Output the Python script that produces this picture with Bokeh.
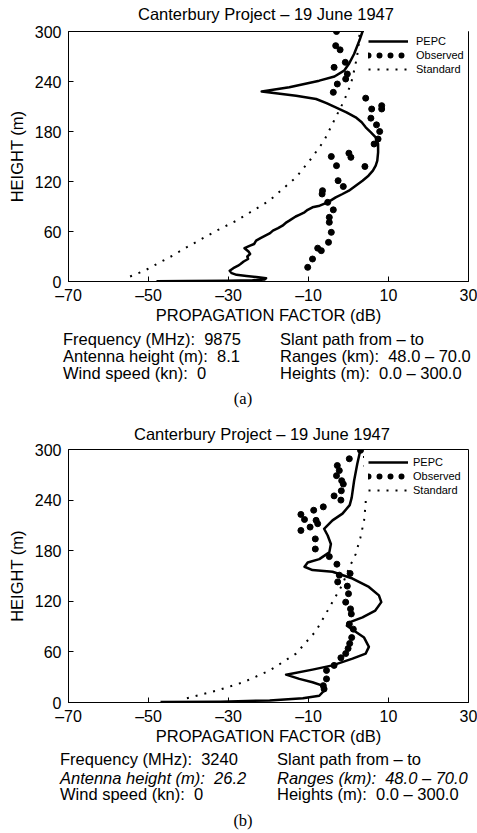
import numpy as np
from bokeh.plotting import figure
from bokeh.models import Range1d, Legend, LegendItem, FixedTicker, Div
from bokeh.layouts import column
from bokeh.embed import file_html
from bokeh.resources import INLINE

FONT = "Liberation Sans"
SERIF = "Liberation Serif"

TITLE = "Canterbury Project \u2013 19 June 1947"
X_LABEL = "PROPAGATION FACTOR (dB)"
Y_LABEL = "HEIGHT (m)"
X_TICKS = [-70, -50, -30, -10, 10, 30]
X_TICK_LABELS = ["\u201370", "\u201350", "\u201330", "\u201310", "10", "30"]
Y_TICKS = [0, 60, 120, 180, 240, 300]
LEGEND_LABELS = ["PEPC", "Observed", "Standard"]

# ---------------- Panel (a) ----------------
A_PEPC_DB = [3.5, 2.8, 1.4, 0.2, -1.1, -3.5, -7.3, -14.8, -21.7, -13.1, -8.1, -5.5, -3.2, -0.5,
             1.8, 3.3, 4.3, 5.6, 6.8, 7.4, 7.4, 7.2, 6.8, 6.1, 5.0, 3.5, 1.8, 0.1, -1.5, -3.2,
             -5.2, -7.2, -9.0, -10.2, -11.0, -12.3, -13.2, -14.8, -15.5, -16.5, -17.6, -18.9,
             -19.6, -20.8, -22.0, -23.1, -23.6, -24.6, -26.0, -25.0, -24.6, -25.3, -25.1, -26.2,
             -27.0, -27.6, -28.8, -29.7, -29.2, -28.0, -25.5, -22.5, -20.6, -21.0, -24.0, -30.0,
             -40.0, -48.0]
A_PEPC_H = [300, 290, 273, 262, 253, 246, 241, 233, 228, 223, 219, 214, 209, 203,
            197, 191, 185, 179, 173, 165, 155, 145, 139, 133, 127, 121, 115, 109, 105, 101,
            95, 91, 89, 86, 83, 80, 78, 73, 71, 67, 64, 61,
            58, 55, 52, 49, 45, 43, 40, 36, 33, 30, 27, 24,
            21, 19, 16, 13, 10, 8, 6.5, 5, 4, 2.5, 1.5, 1.0,
            0.6, 0.4]
A_OBS_DB = [-3.0, -3.2, -2.1, -0.8, -3.6, -0.3, -0.7, -2.8, -3.8, 4.3, 8.3, 5.8, 8.3, 5.6,
            7.0, 7.8, 7.4, 6.4, -4.3, 0.1, 0.6, -3.0, 4.1, -2.6, -1.3, -6.5, -6.6, -5.2,
            -3.8, -4.8, -4.8, -4.3, -5.0, -7.7, -6.8, -9.0, -10.2]
A_OBS_H = [300, 283, 278, 263, 257, 249, 243, 237, 227, 220, 211, 207, 207, 196,
           188, 180, 171, 165, 150, 154, 149, 139, 138, 121, 114, 109, 105, 95,
           86, 77, 71, 59, 47, 40, 37, 27, 17]
A_STD_DB = [-54.6, -51.0, -47.9, -44.0, -40.5, -33.0, -28.0, -19.8, -13.1, -9.4, -6.1,
            -3.2, -1.1, 0.6, 1.6, 2.2, 2.6, 2.8]
A_STD_H = [6, 13, 21, 31, 41, 61, 73, 97, 125, 147, 169, 197, 217, 237, 257, 272, 287, 300]
A_INFO_LEFT = ["Frequency (MHz):  9875", "Antenna height (m):  8.1", "Wind speed (kn):  0"]
A_INFO_RIGHT = ["Slant path from \u2013 to", "Ranges (km):  48.0 \u2013 70.0",
                "Heights (m):  0.0 \u2013 300.0"]
A_TAG = "(a)"

# ---------------- Panel (b) ----------------
B_PEPC_DB = [3.0, 2.2, 1.4, 0.8, 0.3, -1.5, -4.0, -6.1, -5.2, -4.4, -4.8, -7.3, -10.2, -11.0,
             -9.0, -4.0, 1.0, 5.1, 7.6, 8.2, 6.7, 3.5, 0.2, -0.4, 1.4, 3.9, 5.1, 4.3, 1.0,
             -4.0, -9.0, -15.6, -12.3, -9.0, -6.5, -6.1, -7.3, -11.4, -19.7, -32.0, -47.0]
B_PEPC_H = [300, 283, 263, 243, 234, 224, 216, 206, 198, 188, 178, 170, 166, 161,
            157, 155, 147, 137, 127, 119, 109, 101, 95, 91, 85, 77, 66, 58, 52,
            44, 39, 33, 28, 24, 20, 14, 8, 5, 2.4, 1.0, 0.5]
B_OBS_DB = [3.0, 0.2, -2.8, -2.3, -3.0, -1.7, -1.3, -1.8, -3.6, -1.9, -6.3, -8.7, -11.9,
            -11.0, -8.1, -9.6, -7.7, -11.9, -8.3, -8.3, -4.8, -2.9, 0.4, -2.3, -2.7, -0.3,
            0.0, -0.7, 0.5, 0.7, 0.2, 1.2, 0.8, 0.3, -0.1, -0.7, -1.9, -3.6, -5.5, -5.5,
            -6.3, -6.1]
B_OBS_H = [299, 289, 281, 275, 269, 263, 259, 251, 245, 240, 232, 228, 223,
           217, 216, 208, 212, 204, 194, 182, 173, 164, 153, 151, 143, 138,
           129, 119, 111, 105, 93, 87, 77, 70, 64, 58, 53, 44, 38, 28,
           20, 16]
B_STD_DB = [-40.4, -33.0, -26.3, -19.7, -13.1, -8.1, -4.5, -1.5, 0.2, 1.8, 3.0, 3.9, 4.3,
            4.3, 4.1, 3.9, 3.8]
B_STD_H = [5, 14, 24, 38, 58, 85, 115, 140, 160, 176, 196, 216, 236, 255, 275, 290, 300]
B_INFO_LEFT = ["Frequency (MHz):  3240", "Antenna height (m):  26.2", "Wind speed (kn):  0"]
B_INFO_RIGHT = ["Slant path from \u2013 to", "Ranges (km):  48.0 \u2013 70.0",
                "Heights (m):  0.0 \u2013 300.0"]
B_TAG = "(b)"

W = 477
LEFT = 68
FRAME_W = 400


def panel(pepc_x, pepc_y, obs_x, obs_y, std_x, std_y, top, frame_h, legend_xy,
          legend_standoff):
    bottom = 46
    p = figure(width=W, height=top + frame_h + bottom,
               x_range=Range1d(-70, 30), y_range=Range1d(0, 300),
               output_backend="svg", toolbar_location=None,
               min_border_left=LEFT, min_border_right=W - LEFT - FRAME_W,
               min_border_top=top, min_border_bottom=bottom)
    p.outline_line_color = "black"
    p.outline_line_width = 1
    p.outline_line_alpha = 1
    p.xgrid.visible = False
    p.ygrid.visible = False
    p.background_fill_color = "white"
    p.border_fill_color = "white"

    p.xaxis.ticker = FixedTicker(ticks=X_TICKS)
    p.xaxis.major_label_overrides = dict(zip(X_TICKS, X_TICK_LABELS))
    p.yaxis.ticker = FixedTicker(ticks=Y_TICKS)
    p.xaxis.axis_label = X_LABEL
    p.yaxis.axis_label = Y_LABEL
    for ax in (p.xaxis[0], p.yaxis[0]):
        ax.major_tick_in = 5
        ax.major_tick_out = 0
        ax.minor_tick_in = 0
        ax.minor_tick_out = 0
        ax.axis_line_color = "black"
        ax.major_tick_line_color = "black"
        ax.major_label_text_font = FONT
        ax.major_label_text_font_size = "16px"
        ax.major_label_text_color = "black"
        ax.axis_label_text_font = FONT
        ax.axis_label_text_font_size = "16.5px"
        ax.axis_label_text_font_style = "normal"
        ax.axis_label_text_color = "black"
    p.xaxis.major_label_standoff = 5
    p.xaxis.axis_label_standoff = -1
    p.yaxis.major_label_standoff = 7
    p.yaxis.axis_label_standoff = 6

    r_std = p.line(std_x, std_y, line_color="black", line_width=2, line_dash="2 7")
    r_pepc = p.line(pepc_x, pepc_y, line_color="black", line_width=2.5, line_join="round")
    p.scatter(obs_x, obs_y, size=6, color="black")
    # legend key for the observed points: a row of round dots
    r_obs_key = p.line(x=obs_x[:1], y=obs_y[:1], line_color="black", line_width=6,
                       line_dash="0 11", line_cap="round")

    legend = Legend(items=[LegendItem(label=LEGEND_LABELS[0], renderers=[r_pepc]),
                           LegendItem(label=LEGEND_LABELS[1], renderers=[r_obs_key]),
                           LegendItem(label=LEGEND_LABELS[2], renderers=[r_std])],
                    location=legend_xy, margin=0, padding=4, spacing=2,
                    glyph_width=40, glyph_height=12, label_height=12,
                    label_standoff=legend_standoff,
                    label_text_font=FONT, label_text_font_size="11px",
                    label_text_color="black",
                    border_line_alpha=0, background_fill_color="white",
                    background_fill_alpha=1)
    p.add_layout(legend)
    return p


def text_div(height, items):
    """items: (text, left, top, family, italic, centred)"""
    parts = ['<div style="position:relative;width:%dpx;height:%dpx;'
             'font-size:16.5px;color:#000;">' % (W, height)]
    for txt, xx, yy, fam, italic, centred in items:
        st = "font-style:italic;" if italic else ""
        if centred:
            st += "width:60px;text-align:center;"
            xx = xx - 30
        parts.append('<div style="position:absolute;left:%spx;top:%spx;line-height:18px;'
                     'white-space:pre;font-family:\'%s\';%s">%s</div>'
                     % (xx, yy, fam, st, txt))
    parts.append('</div>')
    return Div(text="".join(parts), width=W, height=height, margin=0)


def info_items(left_lines, right_lines, tag, italic_rows, xs, tops):
    items = []
    for i, (l, r) in enumerate(zip(left_lines, right_lines)):
        items.append((l, xs[0], tops[i], FONT, i in italic_rows, False))
        items.append((r, xs[1], tops[i], FONT, i in italic_rows, False))
    items.append((tag, xs[2], tops[3], SERIF, False, True))
    return items


ha = text_div(23, [(TITLE, 138, 4.8, FONT, False, False)])
pa = panel(A_PEPC_DB, A_PEPC_H, A_OBS_DB, A_OBS_H, A_STD_DB, A_STD_H,
           8, 250, (296, 202), 8)
da = text_div(116, info_items(A_INFO_LEFT, A_INFO_RIGHT, A_TAG, [], (63, 280, 243),
                              (2.5, 20.3, 36.8, 63.4))
              + [(TITLE, 134, 97.8, FONT, False, False)])
pb = panel(B_PEPC_DB, B_PEPC_H, B_OBS_DB, B_OBS_H, B_STD_DB, B_STD_H,
           6, 253, (296, 202), 5)
db = text_div(85, info_items(B_INFO_LEFT, B_INFO_RIGHT, B_TAG, [1], (60, 277, 243),
                             (2.1, 20.5, 37.1, 63.6)))

layout = column(ha, pa, da, pb, db, spacing=0)
open("out.html", "w", encoding="utf-8").write(file_html(layout, INLINE))
